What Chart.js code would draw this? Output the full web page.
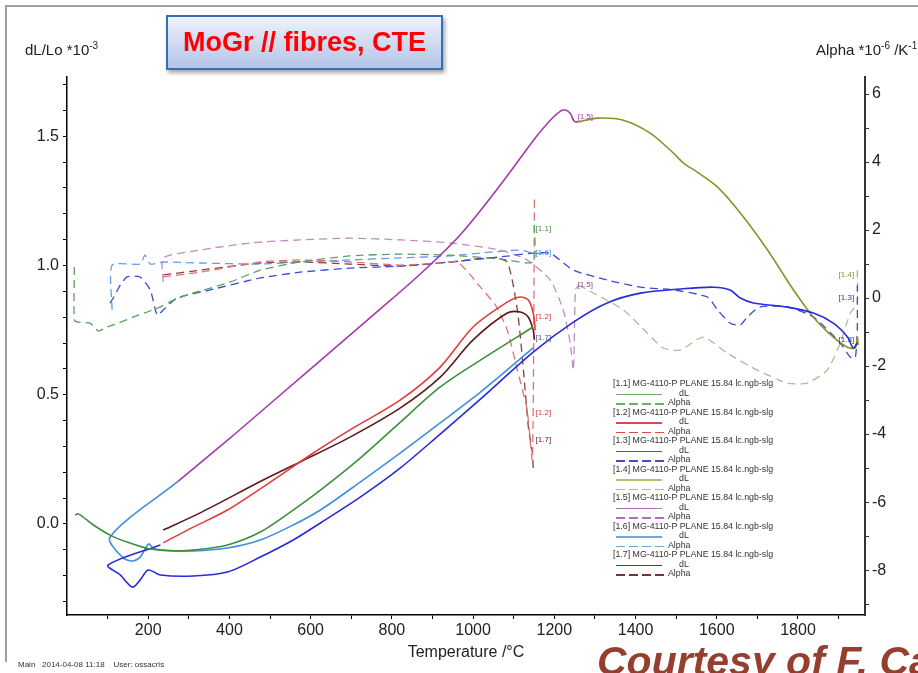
<!DOCTYPE html>
<html>
<head>
<meta charset="utf-8">
<script src="https://cdn.jsdelivr.net/npm/chart.js@4.4.1/dist/chart.umd.min.js"></script>
<style>
html, body { margin: 0; padding: 0; background: #fff; }
body { width: 918px; height: 673px; position: relative; overflow: hidden; font-family: "Liberation Sans", Arial, sans-serif; }
#frame { position: absolute; left: 5px; top: 5px; width: 920px; height: 655px; border-top: 2px solid #a0a0a0; border-left: 2px solid #a0a0a0; }
#chart { position: absolute; left: 0; top: 0; }
#titleBox { position: absolute; left: 166px; top: 15px; width: 277px; height: 55px; box-sizing: border-box;
  border: 2px solid #3470b8; background: linear-gradient(#eef2fb, #b4c4e8); box-shadow: 2px 3px 4px rgba(0,0,0,0.35);
  color: #f00; font: bold 27px "Liberation Sans", Arial, sans-serif; text-align: center; line-height: 51px; z-index: 3; }
.axt { position: absolute; font-size: 15px; color: #222; white-space: nowrap; }
.axt sup { font-size: 10px; }
#xTitle { position: absolute; left: 0; width: 932px; top: 643px; text-align: center; font-size: 16px; color: #222; }
#stamp { position: absolute; left: 18px; top: 660px; font-size: 8px; color: #333; }
#courtesy { position: absolute; left: 597px; top: 638px; font: italic bold 41px "Liberation Sans", Arial, sans-serif; color: #963f2e; white-space: nowrap; }
#legend { position: absolute; left: 612px; top: 379px; width: 165px; height: 222px; background: #fff; font-size: 8.8px; color: #333; z-index: 2; }
#legend .row { position: absolute; left: 1px; height: 9.5px; line-height: 9.5px; white-space: nowrap; }
#legend .ln { position: absolute; left: 3px; top: 5px; width: 46px; height: 1.5px; }
</style>
</head>
<body>
<div id="frame"></div>
<canvas id="chart" width="918" height="673"></canvas>
<div id="titleBox">MoGr // fibres, CTE</div>
<div class="axt" style="left:25px; top:40px;">dL/Lo *10<sup>-3</sup></div>
<div class="axt" style="left:816px; top:40px;">Alpha *10<sup>-6</sup> /K<sup>-1</sup></div>
<div id="xTitle">Temperature /°C</div>
<div id="stamp">Main&nbsp;&nbsp; 2014-04-08 11:18&nbsp;&nbsp;&nbsp; User: ossacris</div>
<div id="courtesy">Courtesy of F. Ca</div>
<div id="legend"></div>
<script>
// dL/Lo (left axis, *10^-3) against temperature (°C)
const dl11T = [20, 28, 65, 106, 148, 205, 271, 311, 395, 476, 557, 624, 722, 821, 919, 1018, 1148];
const dl11 = [0.035, 0.039, -0.004, -0.043, -0.070, -0.097, -0.104, -0.101, -0.081, -0.031, 0.054, 0.131, 0.255, 0.394, 0.530, 0.634, 0.762];

const dl12T = [237, 311, 395, 508, 599, 697, 821, 919, 1000, 1084, 1116, 1136, 1148, 1153];
const dl12 = [-0.073, -0.012, 0.054, 0.170, 0.267, 0.364, 0.480, 0.607, 0.762, 0.858, 0.878, 0.866, 0.816, 0.750];

const dl13T = [230, 101, 131, 161, 180, 200, 230, 311, 395, 476, 557, 624, 722, 821, 919, 1018, 1148, 1247, 1330, 1412,
  1510, 1592, 1633, 1658, 1690, 1774, 1838, 1887, 1922, 1936, 1946];
const dl13 = [-0.081, -0.159, -0.197, -0.244, -0.217, -0.178, -0.197, -0.201, -0.186, -0.128, -0.062, 0.004, 0.104, 0.217, 0.348, 0.483, 0.665, 0.781, 0.855, 0.893,
  0.909, 0.916, 0.905, 0.874, 0.855, 0.839, 0.816, 0.777, 0.723, 0.681, 0.700];

const dl14T = [1259, 1306, 1370, 1436, 1493, 1518, 1552, 1602, 1658, 1725, 1789, 1838, 1887, 1922, 1941, 1946, 1948];
const dl14 = [1.555, 1.570, 1.562, 1.512, 1.435, 1.396, 1.361, 1.303, 1.203, 1.060, 0.905, 0.800, 0.723, 0.684, 0.681, 0.723, 0.692];

const dl15T = [274, 402, 525, 648, 771, 870, 968, 1067, 1153, 1190, 1215, 1227, 1239, 1249, 1259];
const dl15 = [0.166, 0.333, 0.499, 0.665, 0.831, 0.967, 1.118, 1.311, 1.493, 1.562, 1.597, 1.601, 1.589, 1.558, 1.555];

const dl16T = [274, 106, 136, 161, 180, 195, 202, 212, 230, 311, 395, 476, 557, 624, 722, 821, 919, 1018, 1148];
const dl16 = [0.166, -0.050, -0.128, -0.143, -0.128, -0.089, -0.077, -0.093, -0.101, -0.104, -0.093, -0.062, -0.004, 0.054, 0.162, 0.275, 0.391, 0.510, 0.681];

const dl17T = [237, 328, 483, 574, 697, 821, 919, 1000, 1084, 1116, 1136, 1148, 1151];
const dl17 = [-0.023, 0.043, 0.170, 0.240, 0.336, 0.449, 0.568, 0.712, 0.816, 0.820, 0.800, 0.750, 0.712];

// Alpha (right axis, *10^-6 /K)
const al11T = [18, 18, 28, 57, 77, 99, 126, 163, 198, 230, 262, 311, 395, 476, 574, 697, 821, 944, 1067, 1148, 1151];
const al11 = [0.91, -0.65, -0.71, -0.74, -0.97, -0.85, -0.74, -0.56, -0.41, -0.26, -0.06, 0.15, 0.44, 0.82, 1.06, 1.24, 1.29, 1.26, 1.15, 1.06, 2.15];

const al12T = [237, 328, 476, 574, 697, 821, 919, 961, 993, 1018, 1055, 1084, 1109, 1133, 1146, 1151];
const al12 = [0.62, 0.76, 1.06, 1.12, 1.06, 0.97, 1.03, 1.06, 0.68, 0.32, -0.21, -0.94, -2.12, -3.29, -4.76, 2.97];

const al13T = [106, 114, 131, 148, 180, 205, 222, 237, 271, 353, 476, 574, 697, 821, 944, 1067, 1148, 1190, 1247, 1330,
  1412, 1493, 1577, 1602, 1633, 1658, 1675, 1707, 1774, 1838, 1904, 1929, 1941, 1946, 1946];
const al13 = [-0.15, 0, 0.38, 0.62, 0.62, 0.24, -0.50, -0.35, 0, 0.24, 0.59, 0.76, 0.88, 0.94, 1.06, 1.21, 1.32, 1.32, 0.82, 0.53,
  0.32, 0.24, 0.03, -0.35, -0.74, -0.79, -0.56, -0.26, -0.26, -0.56, -1.32, -1.74, -1.76, -0.94, 0.38];

const al14T = [1259, 1296, 1370, 1429, 1468, 1510, 1567, 1626, 1700, 1774, 1823, 1872, 1904, 1929, 1946, 1946];
const al14 = [0.38, 0.15, -0.35, -1.03, -1.47, -1.53, -1.15, -1.62, -2.12, -2.50, -2.50, -2.12, -1.32, -0.44, -0.15, 0.82];

const al15T = [237, 237, 328, 451, 574, 697, 821, 944, 1067, 1133, 1190, 1222, 1239, 1247, 1252, 1259];
const al15 = [0.47, 1.18, 1.41, 1.62, 1.71, 1.76, 1.71, 1.62, 1.41, 1.12, 0.53, -0.35, -1.32, -2.12, 0.24, 0.38];

const al16T = [111, 111, 180, 192, 205, 237, 328, 476, 574, 697, 821, 944, 1042, 1116, 1148, 1173];
const al16 = [-0.35, 0.97, 1.00, 1.26, 1.00, 1.06, 1.03, 1.00, 1.06, 1.12, 1.18, 1.24, 1.35, 1.41, 1.32, 1.32];

const al17T = [237, 328, 476, 574, 697, 821, 944, 1042, 1084, 1109, 1124, 1136, 1146, 1148];
const al17 = [0.68, 0.82, 1.03, 1.06, 1.00, 0.94, 1.06, 1.18, 1.06, -0.35, -2.12, -3.79, -4.56, -5.00];

// run tags written on the plot (left-axis value used for placement)
const tagText = ['[1.1]', '[1.6]', '[1.5]', '[1.5]', '[1.2]', '[1.7]', '[1.2]', '[1.7]', '[1.4]', '[1.3]', '[1.3]'];
const tagT = [1173, 1173, 1276, 1276, 1173, 1173, 1173, 1173, 1919, 1919, 1919];
const tagV = [1.141, 1.048, 1.574, 0.924, 0.800, 0.719, 0.429, 0.325, 0.963, 0.874, 0.712];
const tagColor = ['#3d8f3d', '#3d8fe0', '#a43aa8', '#8a4a70', '#e53a3a', '#4a4a9a', '#e53a3a', '#5c1a1a', '#8f8f2a', '#2a2ad8', '#2a2ad8'];

// legend
const runIds = ['1.1', '1.2', '1.3', '1.4', '1.5', '1.6', '1.7'];
const runName = 'MG-4110-P PLANE 15.84 lc.ngb-slg';
const solidCol = ['#3d8f3d', '#e53a3a', '#2a2ad8', '#8f8f2a', '#a43aa8', '#3d8fe0', '#5c1a1a'];
const dashCol = ['#5f9f5f', '#e87070', '#3a4ad8', '#b5b59a', '#c08cc4', '#5fa0e8', '#8a4040'];
const legendSolid = ['#6ab06a', '#e04848', '#4a4ad0', '#b8c070', '#b070b8', '#70a8d8', '#803030'];

const xTicks = [];
for (let v = 100; v <= 1900; v += 100) xTicks.push(v);
const yTicks = [];
for (let v = -3; v <= 17; v++) yTicks.push(v / 10);
const y1Ticks = [];
for (let v = -9; v <= 6; v++) y1Ticks.push(v);

function pts(xs, ys) {
    return xs.map((x, i) => ({x: x, y: ys[i]}));
}

const solidSets = [
    [dl11T, dl11], [dl12T, dl12], [dl13T, dl13], [dl14T, dl14], [dl15T, dl15], [dl16T, dl16], [dl17T, dl17]
];
const dashSets = [
    [al11T, al11], [al12T, al12], [al13T, al13], [al14T, al14], [al15T, al15], [al16T, al16], [al17T, al17]
];

const datasets = [];
solidSets.forEach((s, i) => {
    datasets.push({
        label: '[' + runIds[i] + '] dL', data: pts(s[0], s[1]), yAxisID: 'y',
        showLine: true, borderColor: solidCol[i], borderWidth: 1.6, pointRadius: 0, tension: 0.3, fill: false
    });
});
dashSets.forEach((s, i) => {
    datasets.push({
        label: '[' + runIds[i] + '] Alpha', data: pts(s[0], s[1]), yAxisID: 'y1',
        showLine: true, borderColor: dashCol[i], borderWidth: 1.3, borderDash: [8, 5], pointRadius: 0, tension: 0.2, fill: false
    });
});

const tagPlugin = {
    id: 'tags',
    afterDatasetsDraw(chart) {
        const c = chart.ctx, xs = chart.scales.x, ys = chart.scales.y;
        c.save();
        c.font = '8px "Liberation Sans", Arial, sans-serif';
        c.textAlign = 'center';
        c.textBaseline = 'middle';
        tagText.forEach((t, i) => {
            c.fillStyle = tagColor[i];
            c.fillText(t, xs.getPixelForValue(tagT[i]), ys.getPixelForValue(tagV[i]));
        });
        c.restore();
    }
};

Chart.defaults.font.family = '"Liberation Sans", Arial, sans-serif';
Chart.defaults.color = '#222';

new Chart(document.getElementById('chart'), {
    type: 'scatter',
    data: {datasets: datasets},
    options: {
        responsive: false,
        animation: false,
        devicePixelRatio: 1,
        layout: {padding: {top: 77, left: 0, right: 0, bottom: 0}},
        plugins: {legend: {display: false}, tooltip: {enabled: false}},
        scales: {
            x: {
                type: 'linear', min: 0, max: 1965,
                afterFit(s) { s.height = 58; },
                afterBuildTicks(s) { s.ticks = xTicks.map(v => ({value: v})); },
                ticks: {autoSkip: false, maxRotation: 0, padding: 2, font: {size: 16},
                    callback: v => (v % 200 === 0 ? String(v) : '')},
                grid: {drawOnChartArea: false, tickLength: 4, color: '#000'},
                border: {color: '#000', width: 1.5}
            },
            y: {
                position: 'left', min: -0.352, max: 1.729,
                afterFit(s) { s.width = 67; },
                afterBuildTicks(s) { s.ticks = yTicks.map(v => ({value: v})); },
                ticks: {autoSkip: false, padding: 4, font: {size: 16},
                    callback: v => (Math.abs(v * 2 - Math.round(v * 2)) < 1e-6 ? v.toFixed(1) : '')},
                grid: {drawOnChartArea: false, tickLength: 4, color: '#000'},
                border: {color: '#000', width: 1.5}
            },
            y1: {
                position: 'right', min: -9.32, max: 6.5,
                afterFit(s) { s.width = 53; },
                afterBuildTicks(s) { s.ticks = y1Ticks.map(v => ({value: v})); },
                ticks: {autoSkip: false, padding: 3, font: {size: 16},
                    callback: v => (v % 2 === 0 ? String(v) : '')},
                grid: {drawOnChartArea: false, tickLength: 4, color: '#333'},
                border: {color: '#333', width: 2}
            }
        }
    },
    plugins: [tagPlugin]
});

// legend box, built from the run arrays
const lg = document.getElementById('legend');
runIds.forEach((id, i) => {
    const top = i * 28.5;
    const h = document.createElement('div');
    h.className = 'row';
    h.style.top = top + 'px';
    h.textContent = '[' + id + '] ' + runName;
    lg.appendChild(h);

    const r1 = document.createElement('div');
    r1.className = 'row';
    r1.style.top = (top + 9.5) + 'px';
    r1.style.width = '100px';
    r1.innerHTML = '<span class="ln" style="background:' + legendSolid[i] + '"></span><span style="position:absolute;left:66px">dL</span>';
    lg.appendChild(r1);

    const r2 = document.createElement('div');
    r2.className = 'row';
    r2.style.top = (top + 19) + 'px';
    r2.style.width = '100px';
    r2.innerHTML = '<span class="ln" style="width:51px;background:repeating-linear-gradient(to right,' + legendSolid[i] +
        ' 0 9px, transparent 9px 13px)"></span><span style="position:absolute;left:55px">Alpha</span>';
    lg.appendChild(r2);
});
</script>
</body>
</html>
